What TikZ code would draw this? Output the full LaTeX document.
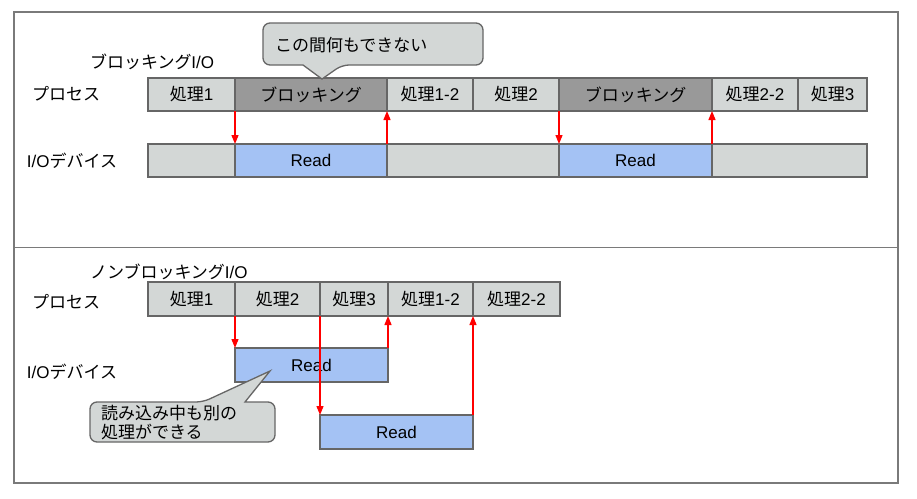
\documentclass[tikz,border=0pt]{standalone}
\usepackage{fontspec}
\setmainfont{Liberation Sans}
\newfontfamily\jp{Noto Sans CJK JP}
\usetikzlibrary{arrows.meta}

\definecolor{linegray}{HTML}{666666}
\definecolor{framegray}{HTML}{7A7A7A}
\definecolor{cellgray}{HTML}{D3D7D6}
\definecolor{busygray}{HTML}{999999}
\definecolor{readblue}{HTML}{A4C2F4}

\tikzset{
  txt/.style={font=\fontsize{17}{19}\selectfont, inner sep=0pt, outer sep=0pt},
  cell/.style={txt, draw=linegray, line width=1.3pt, minimum height=33pt,
    anchor=north west},
  light/.style={cell, fill=cellgray},
  busy/.style={cell, fill=busygray},
  read/.style={cell, fill=readblue},
  label/.style={txt, anchor=west},
  ioarrow/.style={red, line width=1.3pt, -{Triangle[width=7pt,length=9pt]}},
  balloon/.style={draw=linegray, fill=cellgray, line width=1.3pt},
}
\def\shori#1{{\jp 処理}#1}

\begin{document}
\begin{tikzpicture}[x=1pt,y=-1pt]
      \useasboundingbox (0,0) rectangle (917,498);
      \draw[framegray, line width=1.3pt] (14,12) rectangle (898,483);
      \draw[framegray, line width=1.3pt] (14,247.5) -- (898,247.5);

      % blocking I/O
      \node[label] (topTitle) at (90,62) {\jp ブロッキング\rmfamily I/O};
      \node[label] (topProc) at (32,94) {\jp プロセス};
      \node[label] (topDev) at (27,161) {I/O\jp デバイス};

      \node[light, minimum width=87pt] (p1) at (148,78) {\shori1};
      \node[busy, minimum width=152pt] (p2) at (235,78) {\jp ブロッキング};
      \node[light, minimum width=86pt] (p3) at (387,78) {\shori{1-2}};
      \node[light, minimum width=86pt] (p4) at (473,78) {\shori2};
      \node[busy, minimum width=153pt] (p5) at (559,78) {\jp ブロッキング};
      \node[light, minimum width=86pt] (p6) at (712,78) {\shori{2-2}};
      \node[light, minimum width=69pt] (p7) at (798,78) {\shori3};

      \node[light, minimum width=87pt] (d1) at (148,144) {};
      \node[read, minimum width=152pt] (d2) at (235,144) {Read};
      \node[light, minimum width=172pt] (d3) at (387,144) {};
      \node[read, minimum width=153pt] (d4) at (559,144) {Read};
      \node[light, minimum width=155pt] (d5) at (712,144) {};

      \draw[ioarrow] (p1.south east) -- (d2.north west);
      \draw[ioarrow] (d2.north east) -- (p3.south west);
      \draw[ioarrow] (p4.south east) -- (d4.north west);
      \draw[ioarrow] (d4.north east) -- (p6.south west);

      \coordinate (tip1) at (322,79);
      \draw[balloon] (263,44) [rounded corners=7pt] -- (263,23) -- (483,23)
        -- (483,65) -- (342,65) [sharp corners] -- (tip1) -- (303,65)
        [rounded corners=7pt] -- (263,65) -- cycle;
      \node[label] (note1) at (275,45) {\jp この間何もできない};

      % non-blocking I/O
      \node[label] (botTitle) at (90,272) {\jp ノンブロッキング\rmfamily I/O};
      \node[label] (botProc) at (32,302) {\jp プロセス};
      \node[label] (botDev) at (27,372) {I/O\jp デバイス};

      \node[light, minimum width=87pt, minimum height=34pt] (q1) at (148,282) {\shori1};
      \node[light, minimum width=85pt, minimum height=34pt] (q2) at (235,282) {\shori2};
      \node[light, minimum width=68pt, minimum height=34pt] (q3) at (320,282) {\shori3};
      \node[light, minimum width=85pt, minimum height=34pt] (q4) at (388,282) {\shori{1-2}};
      \node[light, minimum width=87pt, minimum height=34pt] (q5) at (473,282) {\shori{2-2}};

      \node[read, minimum width=153pt, minimum height=34pt] (r1) at (235,348) {Read};
      \node[read, minimum width=153pt, minimum height=34pt] (r2) at (320,415) {Read};

      \draw[ioarrow] (q1.south east) -- (r1.north west);
      \draw[ioarrow] (q2.south east) -- (r2.north west);
      \draw[ioarrow] (r1.north east) -- (q4.south west);
      \draw[ioarrow] (r2.north east) -- (q5.south west);

      \coordinate (tip2) at (270,371);
      \draw[balloon] (90,420) [rounded corners=7pt] -- (90,402) -- (203,402)
        [sharp corners] -- (tip2) -- (245,402) [rounded corners=7pt]
        -- (275,402) -- (275,442) -- (90,442) -- cycle;
      \node[label, align=left] (note2) at (101,423) {\jp 読み込み中も別の\\\jp 処理ができる};
\end{tikzpicture}
\end{document}
